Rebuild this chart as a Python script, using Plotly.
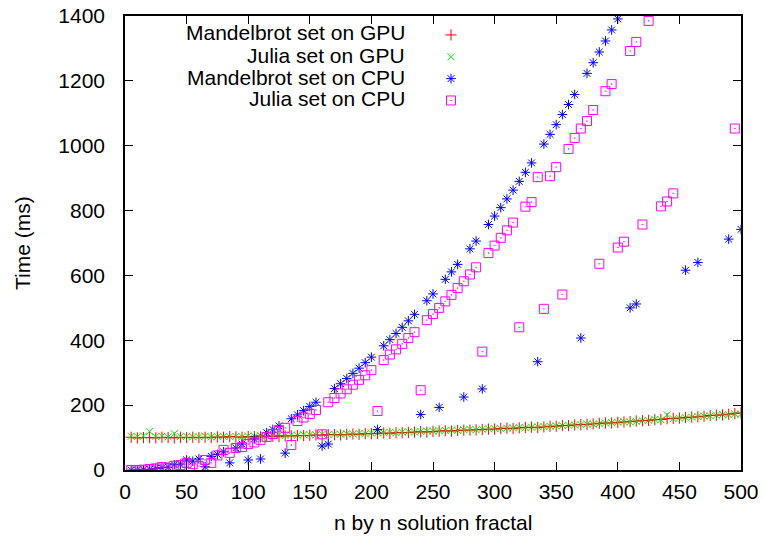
import plotly.graph_objects as go

# problem size n (n by n fractal)
n_values = [5, 10, 15, 20, 25, 30, 35, 40, 45, 50,
            55, 60, 65, 70, 75, 80, 85, 90, 95, 100,
            105, 110, 115, 120, 125, 130, 135, 140, 145, 150,
            155, 160, 165, 170, 175, 180, 185, 190, 195, 200,
            205, 210, 215, 220, 225, 230, 235, 240, 245, 250,
            255, 260, 265, 270, 275, 280, 285, 290, 295, 300,
            305, 310, 315, 320, 325, 330, 335, 340, 345, 350,
            355, 360, 365, 370, 375, 380, 385, 390, 395, 400,
            405, 410, 415, 420, 425, 430, 435, 440, 445, 450,
            455, 460, 465, 470, 475, 480, 485, 490, 495, 500]

mandel_gpu = [101, 99, 100, 100, 99, 101, 100, 99, 101, 100,
              101, 100, 101, 100, 102, 101, 103, 102, 101, 103,
              103, 102, 104, 104, 103, 105, 105, 106, 106, 107,
              108, 107, 109, 109, 108, 110, 111, 110, 112, 112,
              113, 114, 113, 115, 115, 116, 117, 118, 117, 119,
              120, 121, 120, 122, 123, 123, 124, 125, 126, 126,
              128, 129, 128, 130, 131, 132, 131, 133, 135, 135,
              137, 137, 139, 140, 141, 142, 144, 145, 145, 147,
              148, 149, 151, 152, 153, 155, 156, 158, 159, 160,
              162, 163, 164, 166, 168, 169, 170, 172, 174, 176]

julia_gpu = [104, 103, 105, 119, 103, 104, 102, 112, 103, 104,
             102, 103, 104, 102, 103, 104, 103, 104, 103, 105,
             104, 106, 105, 106, 107, 106, 108, 107, 109, 109,
             108, 110, 109, 111, 110, 112, 111, 113, 112, 114,
             114, 115, 116, 115, 117, 118, 117, 119, 120, 120,
             121, 122, 123, 122, 124, 125, 124, 126, 127, 128,
             127, 129, 130, 131, 130, 132, 133, 134, 135, 136,
             137, 138, 139, 140, 142, 141, 143, 145, 146, 147,
             149, 148, 150, 152, 153, 156, 155, 170, 158, 160,
             161, 163, 165, 166, 167, 169, 171, 170, 173, 172]

mandel_cpu = [0, 0, 1, 2, 5, 7, 9, 16, 18, 31,
              27, 34, 10, 42, 48, 56, 22, 68, 80, 31,
              96, 34, 115, 125, 136, 52, 158, 170, 183, 196,
              209, 74, 80, 251, 266, 282, 298, 314, 331, 348,
              125, 383, 402, 421, 440, 460, 480, 171, 522, 543,
              193, 588, 611, 634, 225, 682, 706, 250, 757, 783,
              809, 836, 863, 890, 918, 947, 334, 1005, 1035, 1065,
              1096, 1127, 1158, 407, 1223, 1256, 1289, 1323, 1357, 1391,
              1426, 500, 512, 1534, 1571, 1608, 1645, 1683, 1722, 1761,
              616, 1840, 640, 1920, 1962, 2003, 2045, 712, 2130, 742]

julia_cpu = [0, 0, 1, 3, 5, 9, 6, 13, 15, 22,
             18, 12, 31, 22, 45, 62, 53, 68, 71, 80,
             85, 93, 102, 111, 120, 130, 77, 151, 162, 173,
             185, 110, 209, 222, 236, 249, 263, 278, 292, 308,
             182, 339, 356, 372, 389, 407, 425, 246, 462, 481,
             500, 520, 540, 561, 582, 603, 625, 365, 669, 692,
             716, 739, 763, 440, 812, 826, 903, 497, 906, 934,
             541, 990, 1024, 1053, 1076, 1110, 636, 1168, 1190, 686,
             704, 1292, 1320, 757, 1385, 1422, 813, 828, 853, 1557,
             1592, 1627, 1663, 1699, 1735, 1772, 1809, 1846, 1053, 1923]

series_names = ["Mandelbrot set on GPU", "Julia set on GPU",
                "Mandelbrot set on CPU", "Julia set on CPU"]
series_values = [mandel_gpu, julia_gpu, mandel_cpu, julia_cpu]
colors = ["#ff0000", "#00ee00", "#0000ff", "#ff00ff"]
symbols = ["cross-thin-open", "x-thin-open", "asterisk-open", "square-open-dot"]
sizes = [8, 7, 8, 9]

FONT = "Liberation Sans, Arial, Helvetica, sans-serif"
FS = 21

fig = go.Figure()
for name, vals, c, s, sz in zip(series_names, series_values, colors, symbols, sizes):
    fig.add_trace(go.Scatter(
        x=n_values, y=vals, mode="markers", name="",
        marker=dict(symbol=s, size=sz, color=c, line=dict(color=c, width=1)),
        showlegend=True, cliponaxis=True,
    ))

# plot-area edges in pixels
L, R, T, B = 125, 741, 16, 470
W, H = R - L, B - T

# legend labels (right aligned, key to the right as in gnuplot)
row_y = [33, 55, 77, 99]
for name, yy in zip(series_names, row_y):
    fig.add_annotation(
        x=(407 - L) / W, y=(B - yy) / H, xref="paper", yref="paper",
        text=name, showarrow=False, xanchor="right", yanchor="middle",
        font=dict(family=FONT, size=FS, color="#000000"),
    )

# axis titles
fig.add_annotation(x=0.5, y=(B - 522) / H, xref="paper", yref="paper",
                   text="n by n solution fractal", showarrow=False,
                   xanchor="center", yanchor="middle",
                   font=dict(family=FONT, size=FS, color="#000000"))
fig.add_annotation(x=(22 - L) / W, y=0.5, xref="paper", yref="paper",
                   text="Time (ms)", showarrow=False, textangle=-90,
                   xanchor="center", yanchor="middle",
                   font=dict(family=FONT, size=FS, color="#000000"))

axis_common = dict(
    showline=True, linecolor="#000000", linewidth=1.5, mirror="ticks",
    ticks="inside", ticklen=8, tickwidth=1, tickcolor="#000000",
    showgrid=False, zeroline=False, automargin=False,
    tickfont=dict(family=FONT, size=FS, color="#000000"),
)

fig.update_layout(
    width=764, height=540,
    margin=dict(l=L, r=764 - R, t=T, b=540 - B, autoexpand=False),
    paper_bgcolor="white", plot_bgcolor="white",
    showlegend=True,
    legend=dict(
        x=(431 - L) / W, y=(B - 19) / H,
        xanchor="left", yanchor="top",
        bgcolor="rgba(0,0,0,0)", borderwidth=0,
        font=dict(family=FONT, size=14.5),
        itemwidth=30,
    ),
    xaxis=dict(range=[0, 500], dtick=50, tick0=0, ticklabelstandoff=2, **axis_common),
    yaxis=dict(range=[0, 1400], dtick=200, tick0=0, ticklabelstandoff=14, **axis_common),
)

fig.write_html("out.html")
